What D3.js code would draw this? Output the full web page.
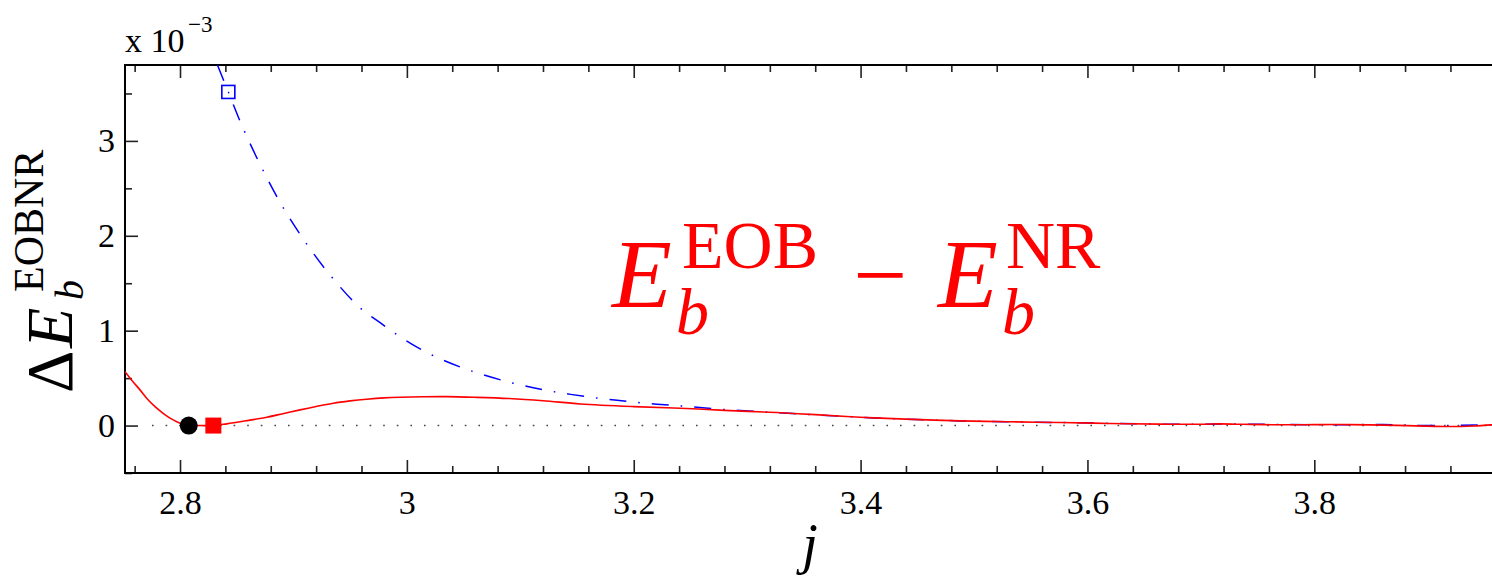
<!DOCTYPE html>
<html>
<head>
<meta charset="utf-8">
<script src="https://cdn.jsdelivr.net/npm/d3@7"></script>
<style>
  html, body { margin: 0; padding: 0; background: #fff; }
  svg { display: block; }
  svg text { font-family: "Liberation Serif", "Times New Roman", Times, Tinos, "Nimbus Roman", "Nimbus Roman No9 L", FreeSerif, serif !important; }
</style>
</head>
<body>
<svg id="chart" width="1492" height="579"></svg>
<script>
// Binding-energy difference E_b^EOB - E_b^NR (units of 1e-3) versus angular momentum j
const jEOB = [2.7515, 2.758, 2.7647, 2.772, 2.7795, 2.786, 2.7912, 2.8, 2.8077, 2.818, 2.8294,
  2.8412, 2.858, 2.8765, 2.8906, 2.9058, 2.92, 2.9352, 2.95, 2.9646, 2.98, 2.994, 3.015, 3.035,
  3.06, 3.09, 3.12, 3.153, 3.2, 3.241, 3.28, 3.326, 3.36, 3.3997, 3.44, 3.4878, 3.53, 3.576,
  3.62, 3.664, 3.70, 3.717, 3.735, 3.77, 3.80, 3.83, 3.86, 3.89, 3.92, 3.94, 3.96];
const dEOB = [0.568, 0.47, 0.376, 0.27, 0.183, 0.12, 0.078, 0.025, 0.0, 0.0, 0.0,
  0.018, 0.05, 0.088, 0.125, 0.165, 0.2, 0.236, 0.26, 0.278, 0.292, 0.299, 0.304, 0.305,
  0.298, 0.285, 0.262, 0.228, 0.2, 0.183, 0.16, 0.137, 0.115, 0.088, 0.068, 0.049, 0.04, 0.032,
  0.022, 0.015, 0.014, 0.018, 0.013, 0.008, 0.01, 0.01, 0.005, -0.003, -0.01, -0.004, 0.01];

// Second comparison curve (dash-dot)
const jAlt = [2.833, 2.8426, 2.8544, 2.8705, 2.8888, 2.9093, 2.9323, 2.9587, 2.9764, 2.9984,
  3.022, 3.0543, 3.0939, 3.1293, 3.1676, 3.194, 3.2205, 3.2497, 3.285, 3.326, 3.3997, 3.4878,
  3.576, 3.664, 3.735, 3.80, 3.86, 3.90, 3.96];
const dAlt = [3.80, 3.516, 3.167, 2.755, 2.341, 1.955, 1.586, 1.241, 1.084, 0.902,
  0.744, 0.586, 0.446, 0.358, 0.29, 0.255, 0.225, 0.2, 0.165, 0.137, 0.088, 0.049,
  0.032, 0.015, 0.015, 0.008, 0.01, 0.0, 0.01];

// Special points: contact (circle), EOB light ring (filled square), alternative light ring (open square)
const markerJ = [2.8077, 2.8294, 2.8426];
const markerV = [0.0, 0.0, 3.516];
const markerKind = ["circle", "square", "openSquare"];

// Axis ticks and labels
const xMajorTicks = [2.8, 3, 3.2, 3.4, 3.6, 3.8];
const xTickLabels = ["2.8", "3", "3.2", "3.4", "3.6", "3.8"];
const yMajorTicks = [0, 1, 2, 3];
const yTickLabels = ["0", "1", "2", "3"];

const svg = d3.select("#chart");
const L = 125, T = 65, B = 473, R = 1495.8;

const x = d3.scaleLinear().domain([2.7515, 3.96]).range([L, R]);
const y = d3.scaleLinear().domain([-0.5, 3.8]).range([B, T]);

svg.append("defs").append("clipPath").attr("id", "plotClip")
  .append("rect").attr("x", L).attr("y", T).attr("width", R - L).attr("height", B - T);

// minor ticks
const xMinor = d3.range(2.76, 3.961, 0.04).filter(v => !xMajorTicks.some(m => Math.abs(m - v) < 1e-6));
const yMinor = [-0.5, 0.5, 1.5, 2.5, 3.5];

function styleAxis(g) {
  g.attr("font-family", null);
  g.select(".domain").remove();
  g.selectAll(".tick line").attr("stroke", "#222").attr("stroke-width", 1.6);
}

// bottom axis
svg.append("g").attr("transform", `translate(0,${B})`)
  .call(d3.axisBottom(x).tickValues(xMinor).tickSize(-7).tickFormat(""))
  .call(styleAxis);
const xb = svg.append("g").attr("transform", `translate(0,${B})`)
  .call(d3.axisBottom(x).tickValues(xMajorTicks).tickSize(-13).tickPadding(17)
    .tickFormat((d, i) => xTickLabels[i]))
  .call(styleAxis);
xb.selectAll(".tick text").attr("font-size", 34).attr("fill", "#000");

// top axis (ticks only)
svg.append("g").attr("transform", `translate(0,${T})`)
  .call(d3.axisTop(x).tickValues(xMinor).tickSize(-7).tickFormat(""))
  .call(styleAxis);
svg.append("g").attr("transform", `translate(0,${T})`)
  .call(d3.axisTop(x).tickValues(xMajorTicks).tickSize(-13).tickFormat(""))
  .call(styleAxis);

// left axis
svg.append("g").attr("transform", `translate(${L},0)`)
  .call(d3.axisLeft(y).tickValues(yMinor).tickSize(-7).tickFormat(""))
  .call(styleAxis);
const yl = svg.append("g").attr("transform", `translate(${L},0)`)
  .call(d3.axisLeft(y).tickValues(yMajorTicks).tickSize(-13).tickPadding(10)
    .tickFormat((d, i) => yTickLabels[i]))
  .call(styleAxis);
yl.selectAll(".tick text").attr("font-size", 34).attr("fill", "#000");

// frame
svg.append("path")
  .attr("d", `M${R},${T}H${L}V${B}H${R}`)
  .attr("fill", "none").attr("stroke", "#000").attr("stroke-width", 2);

const plot = svg.append("g").attr("clip-path", "url(#plotClip)");

// zero reference line
plot.append("line")
  .attr("x1", L + 27).attr("x2", R).attr("y1", y(0)).attr("y2", y(0))
  .attr("stroke", "#444").attr("stroke-width", 1.6)
  .attr("stroke-dasharray", "1.6,12");

const lineOf = (js, vs) => d3.line()
  .x(i => x(js[i])).y(i => y(vs[i]))
  .curve(d3.curveCatmullRom.alpha(0.5))(d3.range(js.length));

plot.append("path").attr("d", lineOf(jAlt, dAlt))
  .attr("fill", "none").attr("stroke", "#0000ff").attr("stroke-width", 1.5)
  .attr("stroke-dasharray", "17,12,1.6,12");

plot.append("path").attr("d", lineOf(jEOB, dEOB))
  .attr("fill", "none").attr("stroke", "#ff0000").attr("stroke-width", 1.6);

// markers
markerKind.forEach((k, i) => {
  const cx = x(markerJ[i]), cy = y(markerV[i]);
  if (k === "circle") {
    svg.append("circle").attr("cx", cx).attr("cy", cy).attr("r", 9).attr("fill", "#000");
  } else if (k === "square") {
    svg.append("rect").attr("x", cx - 8).attr("y", cy - 8).attr("width", 16).attr("height", 16)
      .attr("fill", "#ff0000");
  } else {
    svg.append("rect").attr("x", cx - 6.5).attr("y", cy - 6.5).attr("width", 13).attr("height", 13)
      .attr("fill", "none").attr("stroke", "#0000ff").attr("stroke-width", 1.6);
  }
});

// exponent label
svg.append("text").attr("x", 125).attr("y", 52).attr("font-size", 34).text("x 10");
svg.append("text").attr("x", 188).attr("y", 32).attr("font-size", 23).text("\u22123");

// x label
svg.append("text").attr("x", 810).attr("y", 563).attr("font-size", 56)
  .attr("font-style", "italic").attr("text-anchor", "middle").text("j");

// y label (rotated)
const yLab = svg.append("g").attr("transform", "translate(72,393) rotate(-90)");
yLab.append("text").attr("x", 0).attr("y", 0).attr("font-size", 66).text("\u0394");
yLab.append("text").attr("x", 45).attr("y", 0).attr("font-size", 66).attr("font-style", "italic").text("E");
yLab.append("text").attr("x", 93).attr("y", 11).attr("font-size", 40).attr("font-style", "italic").text("b");
yLab.append("text").attr("x", 101).attr("y", -29).attr("font-size", 42).text("EOBNR");

// annotation
const ann = svg.append("g").attr("fill", "#ff0000");
ann.append("text").attr("x", 612).attr("y", 307).attr("font-size", 98).attr("font-style", "italic").text("E");
ann.append("text").attr("x", 676).attr("y", 334).attr("font-size", 66).attr("font-style", "italic").text("b");
ann.append("text").attr("x", 682).attr("y", 268).attr("font-size", 68).text("EOB");
ann.append("text").attr("x", 853).attr("y", 307).attr("font-size", 96).text("\u2212");
ann.append("text").attr("x", 938).attr("y", 307).attr("font-size", 98).attr("font-style", "italic").text("E");
ann.append("text").attr("x", 1002).attr("y", 334).attr("font-size", 66).attr("font-style", "italic").text("b");
ann.append("text").attr("x", 1006).attr("y", 268).attr("font-size", 68).text("NR");
</script>
</body>
</html>
